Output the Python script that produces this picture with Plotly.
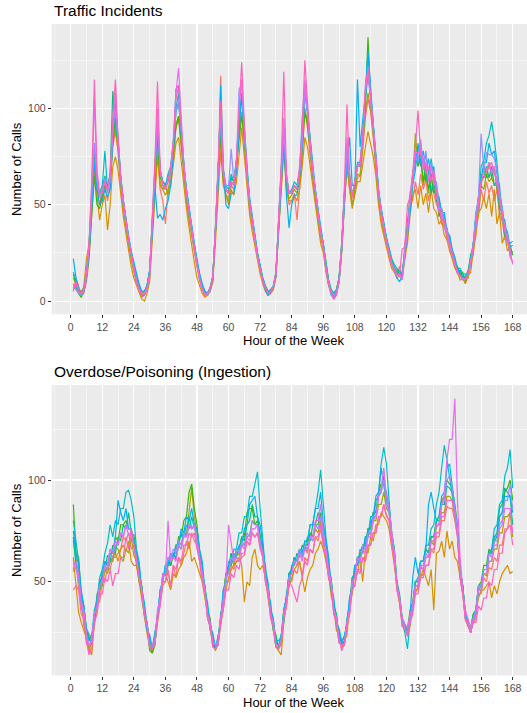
import plotly.graph_objects as go

# ---------------- data ----------------
hours = list(range(1, 169))
x_tick_values = list(range(0, 169, 12))
series_colors = ["#F8766D", "#D89000", "#A3A500", "#39B600", "#00BF7D",
                 "#00BFC4", "#00B0F6", "#9590FF", "#E76BF3", "#FF62BC"]

traffic_1 = [5,12,8,3,4,10, 22,48,68,58,50,56, 60,52,60,80,88,78, 60,48,38,30,22,15,
             9,5,2,3,6,12, 35,62,80,58,52,40, 58,62,72,90,95,80, 65,52,43,34,25,18,
             11,6,3,4,5,10, 33,62,117,70,55,54, 60,58,68,88,98,82, 62,48,40,30,22,16,
             10,6,3,4,6,13, 38,62,82,60,50,52, 56,42,60,75,100,90, 75,62,52,43,33,27,
             17,9,4,3,4,10, 26,52,72,58,50,57, 64,65,78,95,105,98, 85,68,52,43,35,30,
             24,20,15,14,18,12, 30,40,57,52,62,55, 66,58,63,52,60,56, 50,48,40,40,32,30,
             23,18,14,16,11,13, 12,20,24,40,44,58, 52,62,56,60,52,58, 44,42,32,32,24,26]
traffic_2 = [8,6,4,2,8,22, 30,50,70,55,42,50, 55,37,50,70,75,68, 55,44,35,26,18,12,
             8,4,1,0,4,10, 32,58,75,60,58,55, 58,60,70,82,85,72, 60,48,38,28,20,12,
             8,4,2,3,5,10, 30,58,78,60,55,50, 58,55,62,75,90,75, 58,45,36,28,20,14,
             9,5,3,4,6,12, 36,60,78,58,52,52, 55,52,58,70,85,80, 70,60,50,40,30,25,
             15,8,4,2,4,10, 25,50,70,58,48,55, 62,62,72,80,88,82, 75,65,50,40,33,28,
             22,17,15,12,13,11, 22,30,45,55,58,48, 60,50,56,46,58,48, 46,40,42,34,32,26,
             22,17,15,11,12,9, 13,15,26,34,46,48, 54,48,56,44,58,40, 46,30,34,26,28,24]
traffic_3 = [12,9,6,5,7,14, 26,48,72,58,54,52, 60,57,64,82,90,78, 60,48,38,30,22,16,
             10,7,3,4,6,14, 36,63,85,62,58,60, 55,68,72,92,96,82, 66,52,42,33,26,18,
             12,8,5,4,6,12, 34,62,85,62,55,52, 60,62,68,90,98,82, 62,48,40,32,22,16,
             11,7,4,5,7,15, 38,62,82,60,53,55, 58,56,62,76,100,92, 76,64,53,44,34,28,
             17,10,5,3,5,12, 28,55,72,60,50,58, 66,65,80,98,108,100, 86,70,55,45,36,30,
             25,21,16,15,13,14, 22,38,48,62,87,70, 74,60,68,56,66,58, 56,44,46,38,36,28,
             24,20,15,14,11,12, 12,20,25,40,46,60, 58,66,62,64,60,60, 46,44,34,32,24,24]
traffic_4 = [14,9,4,2,5,12, 24,45,65,50,48,55, 60,58,64,82,95,82, 64,52,42,32,25,18,
             12,8,4,5,8,15, 40,66,86,64,62,60, 64,68,80,90,96,84, 70,56,46,36,28,20,
             13,8,5,3,6,11, 36,66,86,64,58,56, 64,62,72,85,96,86, 66,52,42,33,24,18,
             12,8,5,5,7,14, 42,66,84,62,56,56, 60,58,66,80,98,92, 80,66,56,46,36,30,
             19,11,6,4,6,12, 30,58,78,64,54,62, 70,70,84,102,137,105, 90,74,56,46,38,32,
             27,22,17,16,14,15, 24,36,50,64,76,70, 78,62,70,58,64,56, 58,44,48,40,38,30,
             26,20,18,14,15,10, 16,20,30,40,54,60, 70,64,72,64,70,58, 56,42,40,30,29,24]
traffic_5 = [9,7,4,3,5,13, 26,55,78,62,55,58, 65,58,66,109,92,82, 63,50,40,32,24,18,
             11,7,3,3,7,15, 40,68,92,68,62,60, 64,68,80,98,103,88, 70,56,46,36,28,20,
             12,7,4,4,7,13, 36,68,92,68,58,56, 64,62,72,95,105,88, 67,52,42,33,24,18,
             11,7,4,5,7,14, 42,68,88,64,56,56, 60,58,66,80,108,98, 80,68,56,46,36,29,
             18,10,5,3,5,11, 28,56,78,64,54,62, 70,70,84,104,118,106, 90,74,56,46,38,32,
             26,20,18,14,16,12, 26,40,54,66,72,80, 70,74,62,68,56,62, 52,50,42,42,34,32,
             25,21,15,16,12,13, 14,24,28,44,52,66, 64,70,64,70,60,62, 48,46,34,33,26,25]
traffic_6 = [15,10,6,4,7,15, 30,56,80,62,56,60, 78,58,66,90,100,85, 65,52,42,33,26,18,
             12,8,5,5,8,16, 40,68,95,68,62,60, 66,70,82,100,108,90, 70,58,48,38,29,21,
             13,8,5,4,6,13, 37,68,92,68,60,58, 66,62,74,95,108,90, 68,52,43,34,25,19,
             12,8,5,6,8,15, 42,68,90,66,56,58, 62,60,68,82,110,100, 82,68,57,47,37,30,
             19,11,6,4,6,12, 30,58,80,66,54,62, 72,72,86,108,128,108, 92,76,58,48,40,33,
             28,22,19,17,15,14, 28,38,52,62,78,72, 82,70,76,66,74,64, 60,52,46,44,36,34,
             27,23,17,17,14,14, 15,23,29,46,53,70, 73,82,86,93,84,72, 56,49,38,36,28,29]
traffic_7 = [22,12,6,4,6,12, 26,50,72,58,50,52, 58,54,58,84,105,82, 64,52,42,34,26,20,
             14,9,5,5,8,16, 36,60,43,45,42,48, 52,60,76,110,112,88, 70,58,48,38,30,22,
             14,9,5,4,7,12, 34,60,112,68,50,48, 56,56,68,90,108,88, 68,54,44,35,25,18,
             10,6,3,5,7,13, 40,60,85,55,38,50, 55,55,66,95,112,98, 84,70,58,48,38,30,
             16,9,3,2,5,10, 26,50,72,85,60,60, 115,80,95,108,130,110, 92,76,58,48,40,34,
             26,20,16,12,10,13, 24,34,46,60,68,82, 72,78,68,74,64,70, 56,54,46,46,36,34,
             26,21,17,13,13,11, 15,18,30,38,54,62, 72,72,82,76,78,66, 60,44,42,32,30,31]
traffic_8 = [8,6,4,3,5,12, 28,55,82,62,55,58, 64,56,62,92,100,82, 63,50,40,32,24,17,
             11,7,4,3,6,13, 38,66,92,68,60,58, 64,66,80,98,104,88, 68,56,46,36,28,20,
             12,7,3,3,6,12, 36,66,102,68,60,60, 79,62,72,110,112,88, 66,52,42,33,24,17,
             11,7,4,5,7,14, 40,66,88,64,56,56, 60,58,66,82,110,98, 80,68,56,46,36,29,
             18,10,5,3,5,11, 28,56,78,64,54,62, 70,72,86,108,122,108, 92,76,56,46,38,32,
             26,20,17,14,13,12, 24,36,52,62,76,72, 84,70,78,62,72,60, 62,48,48,40,38,30,
             25,20,15,13,11,12, 14,20,30,44,55,87, 68,77,76,76,74,68, 54,48,36,34,24,25]
traffic_9 = [7,9,5,4,6,14, 30,60,105,64,54,56, 62,58,65,90,108,84, 64,51,41,32,25,18,
             10,6,4,4,7,14, 40,70,100,68,60,58, 62,68,84,108,121,92, 70,56,46,36,28,19,
             11,6,4,4,6,12, 36,68,98,66,58,56, 62,60,72,100,115,90, 66,51,42,33,23,17,
             10,7,4,5,7,14, 42,68,95,64,56,56, 60,58,68,88,115,100, 80,68,56,46,36,28,
             17,9,4,1,4,10, 28,56,85,64,54,62, 70,70,84,110,118,104, 90,74,56,46,38,31,
             25,19,16,13,14,11, 26,36,52,64,78,76, 80,68,72,62,70,62, 58,46,46,38,36,28,
             24,19,15,13,12,11, 14,20,28,40,52,62, 68,68,72,66,70,60, 56,42,40,30,27,19]
traffic_10 = [6,10,5,4,6,14, 30,62,115,68,56,56, 62,58,66,95,115,85, 64,52,42,32,25,18,
              10,6,3,4,7,14, 42,72,114,68,60,58, 62,70,82,105,112,92, 70,56,46,36,27,19,
              11,6,3,4,6,12, 36,70,104,66,58,56, 62,60,72,100,124,92, 66,51,42,33,23,17,
              10,7,4,5,7,14, 44,70,119,66,56,56, 60,58,70,90,125,104, 82,68,56,46,36,28,
              17,9,4,1,3,10, 28,58,102,66,54,62, 70,72,84,112,120,106, 90,74,56,46,38,31,
              25,19,16,14,14,27, 28,50,54,68,80,99, 76,74,66,70,62,68, 54,50,42,42,34,31,
              24,19,15,13,12,11, 14,20,28,40,52,62, 64,67,70,72,66,64, 52,46,36,34,23,20]

overdose_1 = [55,62,46,42,28,24, 15,21,28,40,40,50, 50,57,56,62,62,64, 66,72,70,74,66,68,
              58,52,42,34,25,18, 16,20,30,40,48,50, 55,47,58,52,62,58, 65,70,66,74,70,68,
              60,50,46,32,28,19, 17,19,30,38,50,50, 58,56,60,60,62,63, 70,68,74,72,74,68,
              62,50,44,32,28,19, 18,19,32,38,50,50, 56,54,60,53,62,60, 66,64,72,70,76,68,
              62,52,47,34,30,20, 19,19,28,34,48,48, 56,56,62,60,68,68, 74,74,82,82,88,83,
              80,70,62,46,40,28, 27,24,32,36,46,46, 54,53,58,58,66,64, 72,72,80,80,87,86,
              86,80,72,52,44,31, 28,25,30,32,44,44, 52,50,57,56,62,60, 68,68,76,76,84,78]
overdose_2 = [62,50,35,30,26,22, 18,14,30,38,45,50, 55,57,60,62,64,60, 66,68,65,70,60,58,
              58,50,42,34,25,20, 18,20,30,42,52,54, 50,46,54,52,56,58, 62,64,70,60,62,58,
              55,50,42,34,26,20, 16,20,28,38,46,52, 56,58,60,62,58,40, 50,48,62,66,58,56,
              58,52,42,34,26,18, 16,14,30,40,48,52, 56,58,60,52,45,52, 56,58,64,66,70,66,
              60,54,43,38,26,24, 17,21,24,38,44,54, 54,62,50,66,64,72, 70,78,78,84,82,80,
              76,68,58,48,38,30, 26,24,28,38,44,48, 52,56,52,48,56,36, 64,65,70,62,75,66,
              70,62,60,52,42,35, 28,27,30,36,42,46, 46,48,50,42,48,44, 50,54,56,58,54,55]
overdose_3 = [70,60,52,38,32,20, 18,19,32,38,48,48, 56,54,60,60,67,66, 62,60,66,64,72,63,
              60,50,46,33,28,16, 15,19,34,40,50,50, 58,58,64,62,70,68, 74,73,84,96,82,74,
              62,53,47,33,29,18, 17,19,32,40,54,54, 62,58,64,63,68,68, 72,73,80,78,78,68,
              66,54,48,34,30,18, 17,21,34,40,54,54, 62,60,66,62,68,64, 72,70,76,74,80,70,
              66,56,50,36,32,22, 20,19,30,36,50,54, 62,62,68,66,74,73, 80,80,88,88,94,86,
              84,72,64,48,42,30, 29,25,34,38,48,48, 57,56,62,62,70,68, 77,78,84,84,92,92,
              90,83,74,54,46,32, 29,25,32,34,46,46, 54,53,60,60,66,66, 74,74,82,82,84,72]
overdose_4 = [88,64,62,43,38,26, 23,19,34,38,50,52, 60,58,64,64,72,70, 78,78,80,76,76,68,
              64,54,48,34,30,18, 15,19,34,42,54,54, 60,58,64,64,72,72, 80,82,94,98,86,78,
              64,54,48,36,32,20, 17,19,32,42,54,56, 64,60,66,66,72,72, 84,86,86,78,80,72,
              66,54,48,34,30,20, 19,21,36,42,54,56, 62,60,66,62,68,68, 74,72,78,78,84,72,
              68,56,50,38,34,22, 21,19,30,36,52,54, 62,62,68,68,76,76, 84,84,94,98,98,88,
              86,74,66,48,42,32, 29,27,36,40,50,50, 60,60,66,64,72,72, 80,82,90,92,100,98,
              96,88,78,56,48,34, 31,27,34,36,48,50, 58,58,66,64,70,72, 82,84,94,96,100,90]
overdose_5 = [72,58,56,40,36,24, 21,24,30,44,46,55, 56,63,60,68,64,72, 70,78,76,84,74,73,
              64,54,48,36,30,19, 17,21,34,40,53,54, 62,58,64,61,68,66, 75,72,82,76,78,70,
              65,54,48,36,30,20, 19,21,34,40,54,56, 64,60,66,64,72,70, 78,80,88,82,82,72,
              64,58,44,40,26,24, 17,24,30,44,48,58, 58,64,62,68,66,72, 70,78,78,84,82,78,
              70,56,52,38,34,22, 21,20,32,38,52,54, 62,62,68,68,76,76, 84,84,92,94,102,90,
              88,74,66,50,44,32, 29,25,34,38,50,50, 60,60,66,64,72,72, 80,80,88,88,97,96,
              94,84,76,56,48,34, 31,27,34,36,48,48, 56,56,64,64,72,74, 86,88,96,94,92,78]
overdose_6 = [80,70,60,46,38,27, 24,23,36,41,52,56, 64,69,78,72,80,78, 86,86,94,95,90,82,
              66,60,46,40,28,23, 17,25,33,46,50,58, 58,64,62,68,68,74, 72,78,76,82,76,76,
              66,60,46,40,28,25, 17,23,31,46,50,60, 60,66,66,74,74,82, 82,92,92,98,104,86,
              70,56,50,36,32,21, 21,23,36,42,54,56, 62,60,66,64,70,70, 78,78,86,94,105,90,
              72,62,48,42,30,27, 21,23,29,42,48,58, 58,66,64,72,72,82, 82,92,94,108,116,108,
              88,72,62,48,42,30, 25,17,31,38,50,52, 60,60,68,68,76,78, 88,94,106,117,110,102,
              94,84,74,56,48,34, 31,25,31,34,46,48, 56,56,64,66,76,78, 88,90,102,106,115,96]
overdose_7 = [75,64,58,44,38,26, 21,21,34,40,50,52, 60,58,66,64,72,90, 84,80,86,76,76,70,
              64,58,44,38,26,24, 17,25,32,46,50,58, 58,64,62,68,68,76, 74,82,80,86,78,76,
              64,58,44,38,26,24, 17,23,30,46,50,58, 58,64,62,68,68,76, 78,88,90,92,82,78,
              68,54,48,36,32,20, 19,23,36,42,54,56, 62,60,66,64,70,70, 78,78,86,86,94,78,
              70,62,46,40,28,26, 19,23,28,42,48,58, 58,64,64,72,72,80, 80,90,92,106,98,94,
              86,72,64,48,42,30, 27,25,34,52,62,54, 60,60,66,88,94,86, 80,82,92,94,106,108,
              98,86,76,56,48,34, 31,25,32,36,48,48, 56,56,64,64,72,72, 82,84,92,92,92,84]
overdose_8 = [60,56,52,38,34,22, 19,21,34,38,48,50, 58,56,64,62,68,68, 74,72,78,76,76,68,
              62,52,46,34,28,18, 17,21,34,40,52,54, 62,60,66,64,70,68, 74,72,78,76,78,70,
              62,52,46,34,30,20, 19,21,32,40,52,54, 62,60,66,64,70,68, 74,72,80,78,78,70,
              64,52,46,34,30,18, 17,21,34,40,52,54, 60,60,66,62,68,66, 72,70,78,76,82,70,
              66,54,50,36,32,20, 19,19,30,36,50,52, 62,60,68,66,74,74, 82,82,92,94,100,88,
              84,72,64,48,42,30, 27,25,32,38,48,48, 58,58,64,62,70,70, 78,78,88,90,100,102,
              96,86,76,54,46,32, 29,25,32,36,48,48, 56,56,64,62,70,70, 78,80,90,90,98,86]
overdose_9 = [56,60,54,40,36,24, 19,21,34,38,48,50, 58,58,66,64,70,68, 74,72,78,73,74,68,
              60,52,46,34,30,18, 19,21,36,42,54,54, 80,60,62,60,68,66, 72,72,78,76,78,70,
              62,52,46,34,30,20, 19,19,32,40,50,78, 70,60,62,60,68,66, 72,70,76,76,78,68,
              64,52,46,34,30,18, 19,21,34,40,52,54, 60,58,64,60,66,64, 72,72,80,80,88,74,
              66,56,50,36,32,22, 16,19,30,36,50,52, 62,60,66,64,72,72, 80,82,92,96,106,92,
              86,74,64,48,42,32, 29,27,34,38,48,48, 58,56,62,62,70,70, 78,78,88,92,110,120,
              120,140,90,62,46,36, 31,27,32,34,46,46, 54,54,60,60,68,68, 76,78,86,86,86,74]
overdose_10 = [46,48,46,34,32,20, 14,17,30,34,44,44, 52,50,56,48,54,54, 62,62,72,66,76,68,
               62,52,46,34,30,18, 17,19,32,38,50,50, 56,48,58,56,62,60, 68,68,74,72,74,66,
               60,50,44,32,28,18, 17,19,30,36,46,46, 54,52,58,56,64,64, 70,68,74,72,74,66,
               62,50,44,32,28,18, 17,19,32,38,50,48, 44,40,48,52,60,58, 66,64,72,72,78,68,
               62,52,48,34,30,20, 19,19,28,34,46,48, 56,54,62,60,68,68, 74,74,82,82,88,82,
               80,68,60,46,40,28, 27,23,30,34,44,44, 52,52,58,58,66,66, 74,74,82,82,90,90,
               90,82,72,52,44,32, 29,25,30,30,38,36, 42,42,50,48,56,56, 64,64,74,76,78,68]

traffic_series = [traffic_1, traffic_2, traffic_3, traffic_4, traffic_5,
                  traffic_6, traffic_7, traffic_8, traffic_9, traffic_10]
overdose_series = [overdose_1, overdose_2, overdose_3, overdose_4, overdose_5,
                   overdose_6, overdose_7, overdose_8, overdose_9, overdose_10]

# ---------------- figure ----------------
W, H = 527, 713
FONT = "Liberation Sans, Arial, Helvetica, sans-serif"

fig = go.Figure()
for vals, col in zip(traffic_series, series_colors):
    fig.add_trace(go.Scatter(x=hours[:len(vals)], y=vals, mode="lines",
                             line=dict(color=col, width=1.2),
                             xaxis="x", yaxis="y", showlegend=False, hoverinfo="skip"))
for vals, col in zip(overdose_series, series_colors):
    fig.add_trace(go.Scatter(x=hours[:len(vals)], y=vals, mode="lines",
                             line=dict(color=col, width=1.2),
                             xaxis="x2", yaxis="y2", showlegend=False, hoverinfo="skip"))

def px_y(p):
    return 1 - p / H

x_left = 51.7 / W
x_range = [-7.22, 173.43]

common_x = dict(
    domain=[x_left, 1], range=x_range, tickmode="array", tickvals=x_tick_values,
    ticks="outside", ticklen=3, tickwidth=1, tickcolor="#333333",
    tickfont=dict(family=FONT, size=10.5, color="#4D4D4D"),
    showgrid=True, gridcolor="white", gridwidth=1.1, zeroline=False, showline=False,
    minor=dict(tickmode="array", tickvals=list(range(-6, 175, 12)), showgrid=True,
               gridcolor="white", gridwidth=0.5, ticks=""),
)
common_y = dict(
    ticks="outside", ticklen=3, tickwidth=1, tickcolor="#333333",
    tickfont=dict(family=FONT, size=10.5, color="#4D4D4D"),
    showgrid=True, gridcolor="white", gridwidth=1.1, zeroline=False, showline=False,
    minor=dict(tickmode="array", tickvals=[25, 75, 125], showgrid=True,
               gridcolor="white", gridwidth=0.5, ticks=""),
)

fig.update_layout(
    width=W, height=H, autosize=False,
    margin=dict(l=0, r=0, t=0, b=0),
    paper_bgcolor="white", plot_bgcolor="#EBEBEB",
    font=dict(family=FONT),
    xaxis=dict(anchor="y", **common_x),
    yaxis=dict(anchor="x", domain=[px_y(314.3), px_y(24)], range=[-6.85, 143.85],
               tickmode="array", tickvals=[0, 50, 100], **common_y),
    xaxis2=dict(anchor="y2", **common_x),
    yaxis2=dict(anchor="x2", domain=[px_y(675.5), px_y(385)], range=[3.9, 146.7],
                tickmode="array", tickvals=[50, 100], **common_y),
)

annots = [
    dict(text="Traffic Incidents", x=x_left, y=px_y(10.5), xanchor="left", yanchor="middle",
         font=dict(size=15.5, color="black")),
    dict(text="Overdose/Poisoning (Ingestion)", x=x_left, y=px_y(371.5), xanchor="left",
         yanchor="middle", font=dict(size=15.5, color="black")),
    dict(text="Hour of the Week", x=293 / W, y=px_y(340.5), xanchor="center", yanchor="middle",
         font=dict(size=13, color="black")),
    dict(text="Hour of the Week", x=293 / W, y=px_y(702), xanchor="center", yanchor="middle",
         font=dict(size=13, color="black")),
    dict(text="Number of Calls", x=16 / W, y=px_y(169), xanchor="center", yanchor="middle",
         textangle=-90, font=dict(size=13, color="black")),
    dict(text="Number of Calls", x=16 / W, y=px_y(530), xanchor="center", yanchor="middle",
         textangle=-90, font=dict(size=13, color="black")),
]
for a in annots:
    a.update(xref="paper", yref="paper", showarrow=False)
    a["font"]["family"] = FONT
fig.update_layout(annotations=annots)

fig.write_html(
    "out.html",
    config={"displayModeBar": False, "staticPlot": True},
    post_script="document.body.style.margin='0';document.body.style.padding='0';"
                "document.body.style.overflow='hidden';",
)
